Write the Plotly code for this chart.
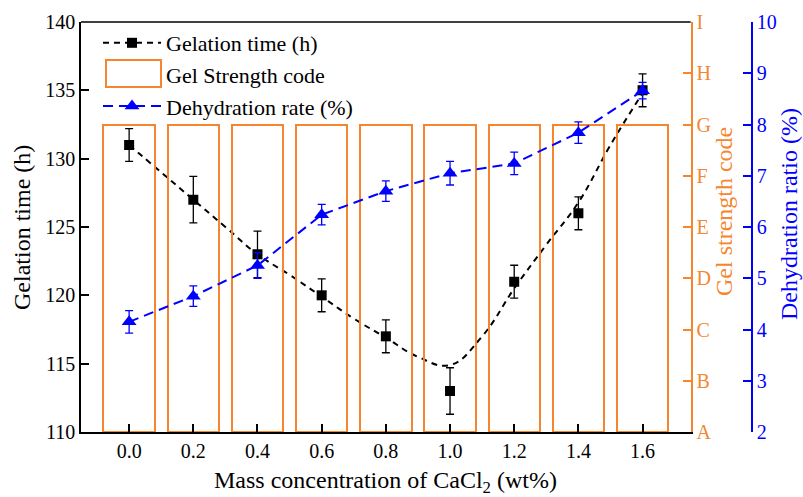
import plotly.graph_objects as go

# ---------------- data ----------------
cacl2 = [0.0, 0.2, 0.4, 0.6, 0.8, 1.0, 1.2, 1.4, 1.6]
gel_time = [131, 127, 123, 120, 117, 113, 121, 126, 135]
gel_time_err = [1.2, 1.7, 1.7, 1.2, 1.2, 1.7, 1.2, 1.2, 1.2]
dehydration = [4.15, 4.65, 5.25, 6.24, 6.70, 7.05, 7.24, 7.84, 8.66]
dehydration_err = [0.22, 0.2, 0.25, 0.2, 0.2, 0.23, 0.22, 0.21, 0.16]
gel_code = ["G", "G", "G", "G", "G", "G", "G", "G", "G"]
code_labels = ["A", "B", "C", "D", "E", "F", "G", "H", "I"]

# smoothed trend curve of gelation time
fit_x = [0.0, 0.1, 0.2, 0.3, 0.4, 0.5, 0.6, 0.7, 0.8, 0.9, 1.0, 1.1, 1.2, 1.3, 1.4, 1.5, 1.6]
fit_y = [131.0, 129.0, 127.0, 125.0, 123.0, 121.5, 119.9, 118.3, 116.9, 115.5, 114.9,
         117.0, 120.5, 123.7, 126.8, 131.0, 134.8]

ORANGE = "#F5862F"
BLUE = "#0000FF"
FONT = "Liberation Serif"

code_vals = [code_labels.index(c) for c in gel_code]

fig = go.Figure()

fig.add_trace(go.Bar(
    x=cacl2, y=code_vals, base=0, width=0.16, yaxis="y2",
    marker=dict(color="rgba(255,255,255,0)", line=dict(color=ORANGE, width=2)),
    name="Gel Strength code", showlegend=False,
))

fig.add_trace(go.Scatter(
    x=fit_x, y=fit_y, mode="lines",
    line=dict(color="black", width=2, dash="6px,5px", shape="spline", smoothing=1.2),
    showlegend=False, hoverinfo="skip",
))

fig.add_trace(go.Scatter(
    x=cacl2, y=gel_time, mode="markers",
    marker=dict(symbol="square", size=10, color="black"),
    error_y=dict(type="data", array=gel_time_err, color="black", thickness=1.3, width=4),
    showlegend=False,
))

# legend-only entries
fig.add_trace(go.Scatter(
    x=[None], y=[None], mode="lines+markers", name="Gelation time (h)",
    line=dict(color="black", width=2, dash="6px,5px"),
    marker=dict(symbol="square", size=10, color="black"),
))
fig.add_trace(go.Scatter(
    x=[None], y=[None], mode="lines", name="Gel Strength code",
    line=dict(color="rgba(0,0,0,0)", width=0),
))

fig.add_trace(go.Scatter(
    x=cacl2, y=dehydration, mode="lines+markers", yaxis="y3", name="Dehydration rate (%)",
    line=dict(color=BLUE, width=2, dash="10px,6px"),
    marker=dict(symbol="triangle-up", size=13, color=BLUE),
    error_y=dict(type="data", array=dehydration_err, color=BLUE, thickness=1.3, width=4),
))

W, H = 803, 497
L, R, T, B = 81, 51, 22, 65
PW, PH = W - L - R, H - T - B
x_end = (690.7 - L) / PW

def px(x):
    return (x - L) / PW

def py(y):
    return (H - B - y) / PH

fig.update_layout(
    width=W, height=H,
    margin=dict(l=L, r=R, t=T, b=B),
    paper_bgcolor="white", plot_bgcolor="white",
    font=dict(family=FONT, size=20, color="black"),
    bargap=0,
    xaxis=dict(
        domain=[0, x_end], range=[-0.15, 1.75],
        tickmode="array", tickvals=cacl2, ticktext=[f"{v:.1f}" for v in cacl2],
        ticks="inside", ticklen=8, tickwidth=1.5, tickcolor="black",
        showline=True, linecolor="black", linewidth=1.5, mirror=False,
        showgrid=False, zeroline=False,
        tickfont=dict(size=20),
    ),
    yaxis=dict(
        range=[110, 140], dtick=5,
        ticks="inside", ticklen=8, tickwidth=1.5, tickcolor="black",
        showline=True, linecolor="black", linewidth=1.5,
        showgrid=False, zeroline=False, tickfont=dict(size=20),
    ),
    yaxis2=dict(
        overlaying="y", side="right", anchor="x", range=[0, 8],
        tickmode="array", tickvals=list(range(9)), ticktext=code_labels,
        ticks="inside", ticklen=8, tickwidth=1.5, tickcolor=ORANGE,
        showline=True, linecolor=ORANGE, linewidth=1.5,
        showgrid=False, zeroline=False, tickfont=dict(size=20, color=ORANGE),
    ),
    yaxis3=dict(
        overlaying="y", side="right", anchor="free", position=1.0, range=[2, 10], dtick=1,
        ticks="inside", ticklen=8, tickwidth=1.5, tickcolor=BLUE,
        showline=True, linecolor=BLUE, linewidth=1.5,
        showgrid=False, zeroline=False, tickfont=dict(size=20, color=BLUE),
    ),
    legend=dict(
        x=px(98), y=py(22), xanchor="left", yanchor="top",
        bgcolor="rgba(255,255,255,0)", font=dict(size=22), traceorder="normal",
        itemwidth=58, tracegroupgap=0,
    ),
    shapes=[
        dict(type="line", xref="x domain", yref="paper", x0=0, x1=1, y0=1, y1=1,
             line=dict(color="black", width=1.5)),
        # legend swatch for the gel strength bars
        dict(type="rect", xref="paper", yref="paper", x0=px(106), x1=px(161), y0=py(87), y1=py(60),
             line=dict(color=ORANGE, width=2), fillcolor="rgba(0,0,0,0)"),
    ],
    annotations=[
        dict(text="Mass concentration of CaCl<sub>2</sub> (wt%)", xref="paper", yref="paper",
             x=px(385), y=py(482), xanchor="center", yanchor="middle",
             showarrow=False, font=dict(size=24)),
        dict(text="Gelation time (h)", xref="paper", yref="paper", textangle=-90,
             x=px(22), y=py(228), xanchor="center", yanchor="middle",
             showarrow=False, font=dict(size=24)),
        dict(text="Gel strength code", xref="paper", yref="paper", textangle=-90,
             x=px(724), y=py(212), xanchor="center", yanchor="middle",
             showarrow=False, font=dict(size=24, color=ORANGE)),
        dict(text="Dehydration ratio (%)", xref="paper", yref="paper", textangle=-90,
             x=px(789), y=py(214), xanchor="center", yanchor="middle",
             showarrow=False, font=dict(size=24, color=BLUE)),
    ],
)

# legend order: gelation, bars, dehydration
fig.data[3].legendrank = 1
fig.data[4].legendrank = 2
fig.data[5].legendrank = 3

fig.write_html("out.html", config={"displayModeBar": False},
               post_script="document.body.style.margin='0';document.body.style.padding='0';")
